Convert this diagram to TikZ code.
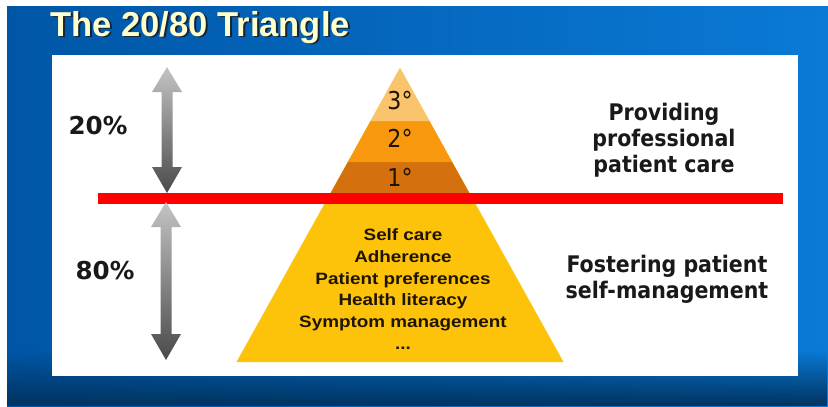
\documentclass[tikz,border=0pt]{standalone}
\usepackage{fontspec}
\setmainfont{Liberation Sans}
\newfontfamily\pctfont{DejaVu Sans}
\newfontfamily\sidefont{DejaVu Sans Condensed}[BoldFont={DejaVu Sans Condensed Bold}]
\newfontfamily\pyrfont{Liberation Sans}[FakeStretch=1.15]
\usetikzlibrary{fadings}
\definecolor{bgleft}{HTML}{0056A6}
\definecolor{bgright}{HTML}{0A7AD6}
\definecolor{bgdark}{HTML}{00335F}
\definecolor{titlecream}{HTML}{FFFFCC}
\definecolor{titleshade}{HTML}{14243A}
\definecolor{tierthree}{HTML}{FAC46C}
\definecolor{tiertwo}{HTML}{F8980F}
\definecolor{tierone}{HTML}{D4700E}
\definecolor{basegold}{HTML}{FDC30A}
\definecolor{tiertext}{HTML}{1E1400}
\definecolor{arrowtop}{HTML}{C4C4C4}
\definecolor{arrowbot}{HTML}{4A4A4A}
\tikzset{
  title/.style={font=\bfseries\fontsize{29.5}{32}\selectfont, text=titlecream, anchor=base west, inner sep=0pt},
  pct/.style={font=\pctfont\bfseries\fontsize{21}{25}\selectfont, text=black!90},
  side/.style={font=\sidefont\bfseries\fontsize{19.5}{22}\selectfont, align=center, text=black!90},
  tier/.style={font=\sidefont\fontsize{21}{24}\selectfont, text=tiertext},
  pyrtext/.style={font=\pyrfont\bfseries\fontsize{14}{18.5}\selectfont, align=center, text=tiertext},
  redline/.style={red, line width=11*0.03cm}
}
% double headed grey arrow: x, top tip, bottom tip
\newcommand{\greyarrow}[3]{%
  \shade[top color=arrowtop, bottom color=arrowbot]
    (#1,#2) -- (#1+15,#2+25) -- (#1+5.5,#2+25) -- (#1+5.5,#3-26) -- (#1+15,#3-26)
    -- (#1,#3) -- (#1-15,#3-26) -- (#1-5.5,#3-26) -- (#1-5.5,#2+25) -- (#1-15,#2+25) -- cycle;}
% text with a dark drop shadow
\newcommand{\shadowed}[1]{\makebox[0pt][l]{\hspace{1.7pt}\raisebox{-1.7pt}{\color{titleshade}#1}}#1}
\begin{document}
\begin{tikzpicture}[x=0.03cm, y=-0.03cm]
\useasboundingbox (0,0) rectangle (828,406);
% background
\fill[left color=bgleft, right color=bgright] (7,6) rectangle (828,406);
\fill[bgdark, path fading=north] (7,350) rectangle (828,406);
\fill[white] (52,55) rectangle (798,376);
\node[title] (title) at (50,36) {\shadowed{The 20/80 Triangle}};
% pyramid
\fill[basegold] (400,68) -- (563.5,362) -- (236.5,362) -- cycle;
\fill[tierone] (347.9,162) -- (452.1,162) -- (472.1,198) -- (327.9,198) -- cycle;
\fill[tiertwo] (370.6,121) -- (429.4,121) -- (452.1,162) -- (347.9,162) -- cycle;
\fill[tierthree] (400,68) -- (429.4,121) -- (370.6,121) -- cycle;
\node[tier] (t3) at (400,101) {3°};
\node[tier] (t2) at (400,138) {2°};
\node[tier] (t1) at (400,177) {1°};
\node[pyrtext] (base) at (403,289) {Self care\\Adherence\\Patient preferences\\Health literacy\\Symptom management\\...};
% split line
\coordinate (cutL) at (98,198);
\coordinate (cutR) at (783,198);
\draw[redline] (cutL) -- (cutR);
% arrows and shares
\greyarrow{167}{67}{193}
\greyarrow{166}{202}{360}
\node[pct] (top) at (98,126) {20\%};
\node[pct] (bottom) at (105,271) {80\%};
\node[side] (care) at (664,140) {Providing\\professional\\patient care};
\node[side] (self) at (667,279) {Fostering patient\\self-management};
\end{tikzpicture}
\end{document}
